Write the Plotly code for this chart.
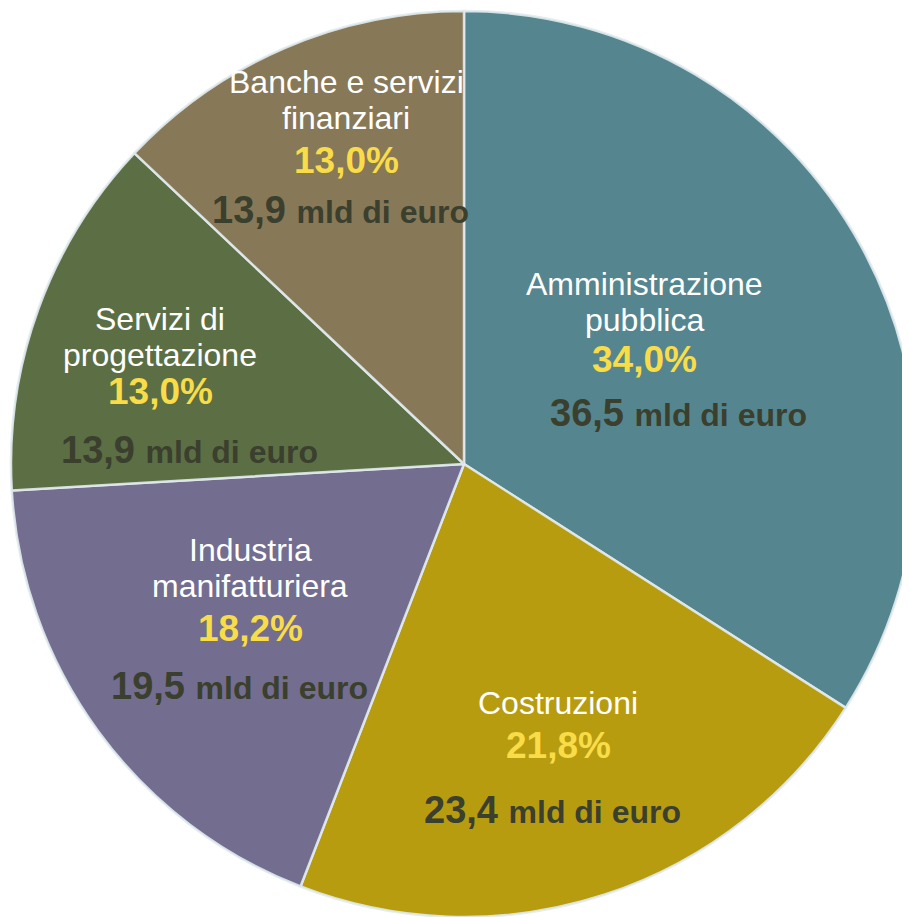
""" Ripartizione della spesa per settore - torta """

import plotly.graph_objects as go

# Data
sectors = ["Amministrazione<br>pubblica", "Costruzioni", "Industria<br>manifatturiera",
           "Servizi di<br>progettazione", "Banche e servizi<br>finanziari"]
values_mld = [36.5, 23.4, 19.5, 13.9, 13.9]
pct_labels = ["34,0%", "21,8%", "18,2%", "13,0%", "13,0%"]
value_labels = ["36,5", "23,4", "19,5", "13,9", "13,9"]

colors = ["#55868f", "#b89c10", "#736d8f", "#5c6e44", "#877857"]

W, H = 910, 917
OFF = 8  # body margin of the html page

# Label placement (page pixel centres of the percent line), plus line offsets
pct_pos = [(644, 360), (558, 745), (250, 628), (160, 392), (346, 161)]
name_dy = [-58, -42, -60, -55, -61]
val_off = [(34, 53), (-6, 65), (-10, 58), (29, 58), (-6, 49)]

fig = go.Figure(go.Pie(
    labels=[s.replace("<br>", " ") for s in sectors],
    values=values_mld,
    sort=False,
    direction="clockwise",
    rotation=0,
    textinfo="none",
    hoverinfo="label+value",
    marker=dict(colors=colors, line=dict(color="rgba(225,235,238,0.9)", width=2.5)),
    domain=dict(x=[3 / W, 909 / W], y=[1 - 909 / H, 1 - 3 / H]),
    showlegend=False,
))


def px(x, y):
    return (x - OFF) / W, 1 - (y - OFF) / H


annotations = []
for i, name in enumerate(sectors):
    cx, cy = pct_pos[i]
    # sector name, one annotation per line
    lines = name.split("<br>")
    step = 36
    top = cy + name_dy[i] - step * (len(lines) - 1) / 2
    for k, line in enumerate(lines):
        x, y = px(cx, top + k * step)
        annotations.append(dict(x=x, y=y, text=line, showarrow=False,
                                xref="paper", yref="paper",
                                xanchor="center", yanchor="middle",
                                font=dict(family="Liberation Sans, Arial", size=32,
                                          color="white")))
    # percentage
    x, y = px(cx, cy)
    annotations.append(dict(x=x, y=y, text="<b>%s</b>" % pct_labels[i], showarrow=False,
                            xref="paper", yref="paper",
                            xanchor="center", yanchor="middle",
                            font=dict(family="Liberation Sans, Arial", size=37,
                                      color="#f8dc48")))
    # amount
    dx, dy = val_off[i]
    x, y = px(cx + dx, cy + dy)
    annotations.append(dict(x=x, y=y,
                            text="<b>%s</b> <b><span style='font-size:32px'>mld di euro</span></b>"
                                 % value_labels[i],
                            showarrow=False, xref="paper", yref="paper",
                            xanchor="center", yanchor="middle",
                            font=dict(family="Liberation Sans, Arial", size=38,
                                      color="#3a3f2e")))

fig.update_layout(
    width=W, height=H,
    margin=dict(l=0, r=0, t=0, b=0),
    paper_bgcolor="white",
    plot_bgcolor="white",
    annotations=annotations,
)

fig.write_html("out.html")
